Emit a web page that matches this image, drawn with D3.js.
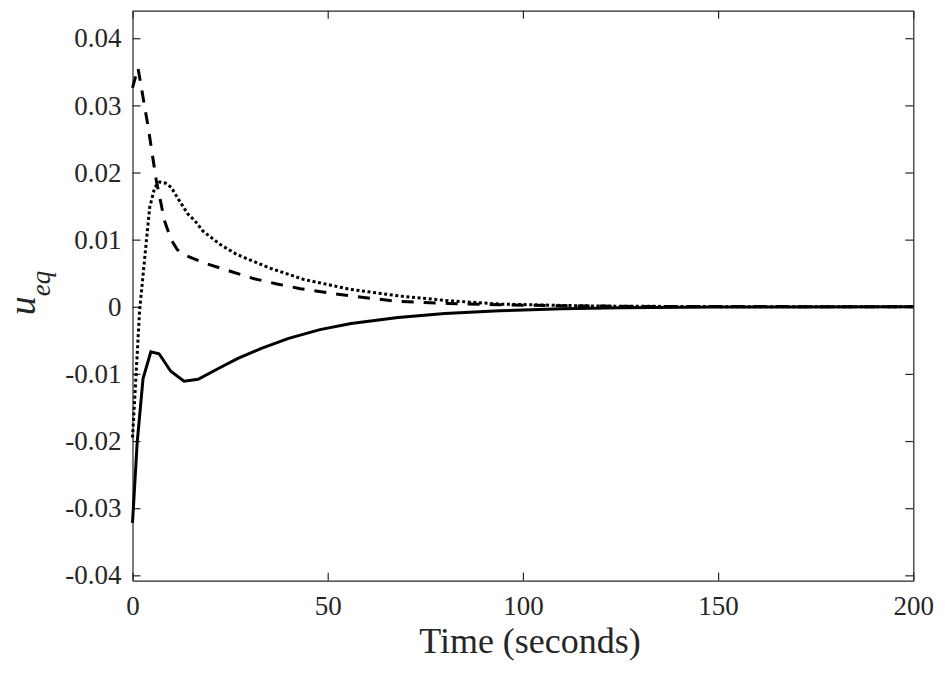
<!DOCTYPE html>
<html lang="en">
  <head>
    <meta charset="utf-8">
    <title>u_eq vs time</title>
    <script src="https://cdn.jsdelivr.net/npm/d3@7"></script>
    <style>
      body { margin: 0; background: #ffffff; }
      .axis line, .axis path { stroke: #262626; stroke-width: 1.2px; }
      .label { font-family: "Liberation Serif", "Times New Roman", serif; fill: #262626; }
    </style>
  </head>
  <body>
    <div id="chart"></div>
    <script>

      // values
      var solidT = [0, 1.2, 2.7, 4.7, 6.8, 9.8, 13.2, 16.8, 22, 27, 33, 40, 48, 56, 68, 80, 94, 110, 125, 150, 200];
      var solidV = [-0.0322, -0.0202, -0.0107, -0.0067, -0.0070, -0.0096, -0.0111, -0.0108, -0.0092, -0.0077,
                    -0.0062, -0.0047, -0.0034, -0.0025, -0.0016, -0.0010, -0.0006, -0.0003, -0.00015, -0.00005, 0];

      var dashT = [0, 1.4, 4.0, 6.1, 8.2, 9.9, 11.5, 13, 19, 25, 31, 37, 43, 50, 56, 68, 81, 94, 110, 130, 200];
      var dashV = [0.0326, 0.0356, 0.0268, 0.0188, 0.0128, 0.0100, 0.0085, 0.0078, 0.0064, 0.0053,
                   0.0042, 0.0034, 0.0027, 0.0021, 0.0016, 0.0008, 0.0005, 0.0003, 0.00015, 0.00005, 0];

      var dotT = [0, 1.0, 1.8, 3.3, 4.4, 5.7, 7.0, 8.5, 9.9, 12, 14.2, 16, 18, 22.4, 26.7, 35, 43.7, 55.7,
                  68.5, 81, 94, 110, 120, 150, 200];
      var dotV = [-0.0195, -0.0092, -0.0007, 0.0083, 0.0148, 0.0178, 0.0186, 0.0184, 0.0178, 0.0158, 0.0138,
                  0.0128, 0.0113, 0.0093, 0.0078, 0.0058, 0.0041, 0.0026, 0.0016, 0.0009, 0.0004, 0.0002,
                  0.0001, 0.00002, 0];

      var xTicks = [0, 50, 100, 150, 200];
      var yTicks = [-0.04, -0.03, -0.02, -0.01, 0, 0.01, 0.02, 0.03, 0.04];
      var yTickLabels = ['-0.04', '-0.03', '-0.02', '-0.01', '0', '0.01', '0.02', '0.03', '0.04'];

      var dims = { w: 945, h: 673, left: 132.5, right: 913.3, top: 10.7, bottom: 580.7 };
      var serif = '"Liberation Serif", "Times New Roman", serif';

      var svg = d3.select('#chart')
        .append('svg')
          .attr('width', dims.w)
          .attr('height', dims.h);

      var xScale = d3.scaleLinear()
        .domain([0, 200])
        .range([dims.left, dims.right]);

      var yScale = d3.scaleLinear()
        .domain([-0.0408, 0.0441])
        .range([dims.bottom, dims.top]);

      // axes, ticks pointing inward like the original
      var xAxisG = svg.append('g')
        .attr('class', 'axis')
        .attr('transform', 'translate(0,' + dims.bottom + ')')
        .call(d3.axisBottom(xScale).tickValues(xTicks).tickSizeInner(-8).tickSizeOuter(0).tickPadding(15));

      svg.append('g')
        .attr('class', 'axis')
        .attr('transform', 'translate(0,' + dims.top + ')')
        .call(d3.axisTop(xScale).tickValues(xTicks).tickSizeInner(-8).tickSizeOuter(0).tickFormat(''));

      var yAxisG = svg.append('g')
        .attr('class', 'axis')
        .attr('transform', 'translate(' + dims.left + ',0)')
        .call(d3.axisLeft(yScale).tickValues(yTicks).tickSizeInner(-8).tickSizeOuter(0).tickPadding(11)
          .tickFormat(function(d, i) { return yTickLabels[i]; }));

      svg.append('g')
        .attr('class', 'axis')
        .attr('transform', 'translate(' + dims.right + ',0)')
        .call(d3.axisRight(yScale).tickValues(yTicks).tickSizeInner(-8).tickSizeOuter(0).tickFormat(''));

      [xAxisG, yAxisG].forEach(function(g) {
        g.attr('font-family', serif).attr('font-size', 27);
        g.selectAll('text')
          .attr('font-family', serif)
          .style('font-family', serif)
          .style('font-size', '27px')
          .style('fill', '#262626');
      });

      // curves
      var line = d3.line()
        .x(function(d) { return xScale(d[0]); })
        .y(function(d) { return yScale(d[1]); });

      var series = [
        { t: solidT, v: solidV, dash: null },
        { t: dashT, v: dashV, dash: '12,10' },
        { t: dotT, v: dotV, dash: '3,2.6' }
      ];

      var plot = svg.append('g');

      series.forEach(function(s) {
        plot.append('path')
          .datum(d3.zip(s.t, s.v))
          .attr('d', line)
          .attr('fill', 'none')
          .attr('stroke', '#000000')
          .attr('stroke-width', 3)
          .attr('stroke-dasharray', s.dash);
      });

      // labels
      svg.append('text')
        .attr('class', 'label')
        .attr('x', 530)
        .attr('y', 653)
        .attr('text-anchor', 'middle')
        .style('font-size', '36px')
        .text('Time (seconds)');

      var yl = svg.append('text')
        .attr('class', 'label')
        .attr('transform', 'translate(35,293) rotate(-90)')
        .attr('text-anchor', 'middle')
        .style('font-style', 'italic');
      yl.append('tspan').style('font-size', '38px').text('u');
      yl.append('tspan').style('font-size', '27px').attr('dy', 15).text('eq');

    </script>
  </body>
</html>
